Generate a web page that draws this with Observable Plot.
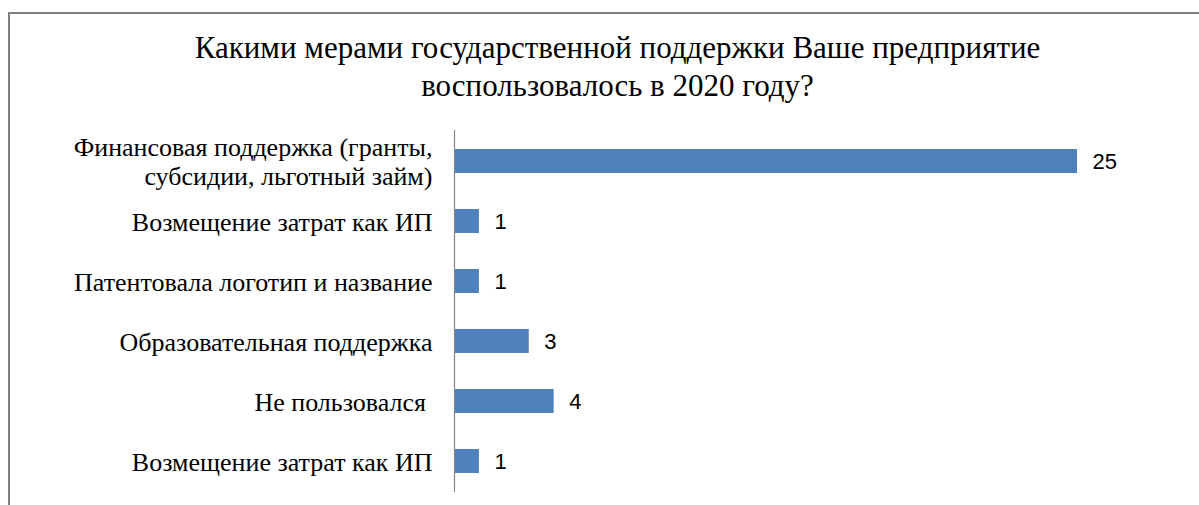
<!DOCTYPE html>
<html><head><meta charset="utf-8">
<script src="https://cdn.jsdelivr.net/npm/d3@7"></script>
<script src="https://cdn.jsdelivr.net/npm/@observablehq/plot@0.6"></script>
<style>
html,body{margin:0;padding:0;background:#fff;}
#wrap{position:relative;width:1199px;height:505px;overflow:hidden;}
#frame{position:absolute;left:8px;top:12px;width:1300px;height:600px;border-top:2px solid #808080;border-left:2px solid #808080;box-sizing:border-box;pointer-events:none;}
#title{position:absolute;left:0;top:0;width:1199px;height:118px;text-align:center;font-family:"Liberation Serif","Times New Roman",serif;font-size:31px;line-height:38px;color:#000;padding-top:29px;box-sizing:border-box;padding-left:36px;}
#chart{position:absolute;left:0;top:118px;}
</style></head>
<body><div id="wrap"><div id="frame"></div>
<div id="title">Какими мерами государственной поддержки Ваше предприятие<br>воспользовалось в 2020 году?</div>
<div id="chart"></div></div>
<script>
const categories = [
  "Финансовая поддержка (гранты,\nсубсидии, льготный займ)",
  "Возмещение затрат как ИП",
  "Патентовала логотип и название",
  "Образовательная поддержка",
  "Не пользовался ",
  "Возмещение затрат как ИП"
];
const values = [25, 1, 1, 3, 4, 1];
const data = categories.map((c, i) => ({key: i, label: c, value: values[i]}));
const serif = '"Liberation Serif","Times New Roman",serif';

const plot = Plot.plot({
  width: 1199,
  height: 387,
  marginTop: 12,
  marginBottom: 13,
  marginLeft: 454,
  marginRight: 122,
  style: {background: "transparent"},
  x: {domain: [0, 25], axis: null},
  y: {domain: d3.range(categories.length), paddingInner: 0.6, paddingOuter: 0.3, axis: null},
  marks: [
    Plot.barX(data, {x: "value", y: "key", fill: "#4f81bd"}),
    Plot.ruleX([0], {stroke: "#868686", strokeWidth: 1.2}),
    Plot.text(data, {x: 0, y: "key", text: "label", textAnchor: "end", dx: -22, lineHeight: 1.08,
      fontFamily: serif, fontSize: 26, fill: "#000"}),
    Plot.text(data, {x: "value", y: "key", text: d => String(d.value), textAnchor: "start", dx: 15,
      fontFamily: "Liberation Sans", fontSize: 22, fill: "#000"})
  ]
});
document.getElementById("chart").appendChild(plot);
</script></body></html>
